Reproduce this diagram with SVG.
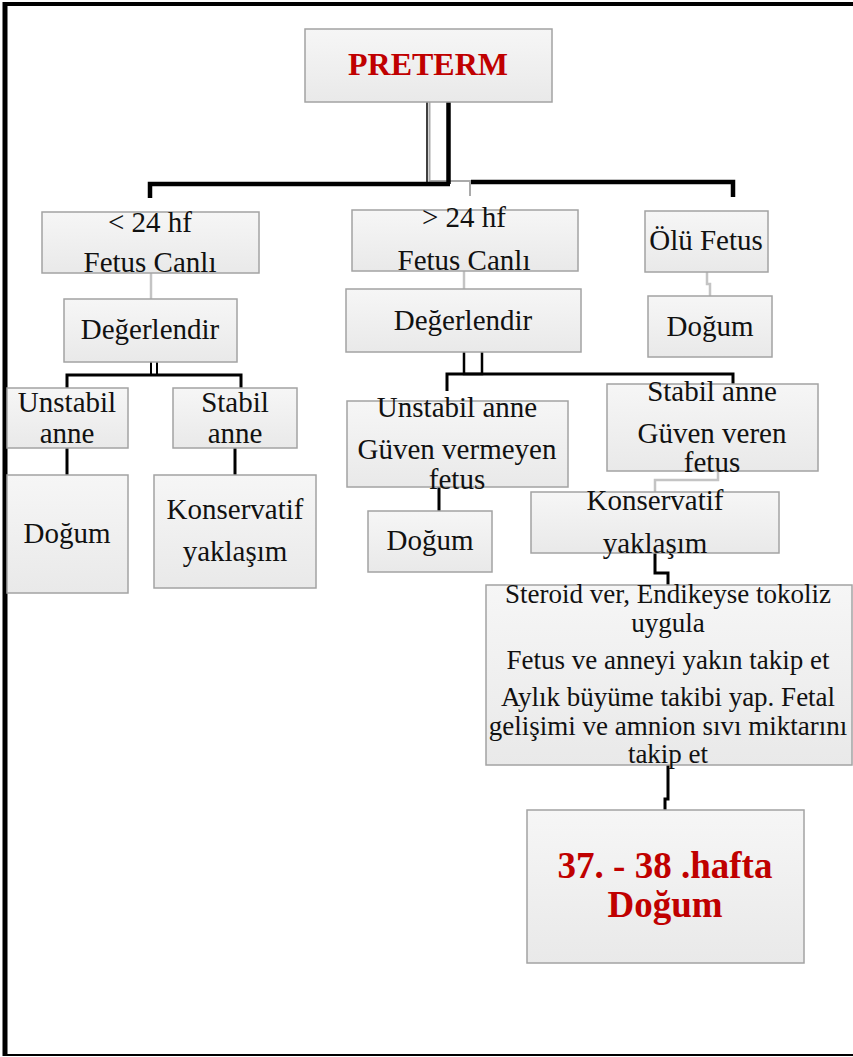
<svg xmlns="http://www.w3.org/2000/svg" width="853" height="1057" viewBox="0 0 853 1057">
  <defs>
    <linearGradient id="boxFill" x1="0" y1="0" x2="0" y2="1">
      <stop offset="0" stop-color="#f6f6f6"/>
      <stop offset="1" stop-color="#e9e9e9"/>
    </linearGradient>
    <style>
      .box { fill: url(#boxFill); stroke: #a3a3a3; stroke-width: 1.5; }
      .t { font-family: "Liberation Serif", "Times New Roman", serif; font-size: 29px; fill: #111; text-anchor: middle; }
      .ts { font-family: "Liberation Serif", "Times New Roman", serif; font-size: 27px; fill: #111; text-anchor: middle; }
      .red { font-family: "Liberation Serif", "Times New Roman", serif; font-weight: bold; fill: #c00000; text-anchor: middle; }
      .blk { fill: none; stroke: #000; stroke-width: 3; }
      .blkThick { fill: none; stroke: #000; stroke-width: 4.5; }
      .gry { fill: none; stroke: #c4c4c4; stroke-width: 2.5; }
      .frame { fill: none; stroke: #000; }
    </style>
  </defs>

  <rect width="853" height="1057" fill="#fff"/>

  <!-- page frame -->
  <g id="frame">
    <line class="frame" x1="3" y1="4" x2="853" y2="4" stroke-width="4"/>
    <line class="frame" x1="5" y1="2" x2="5" y2="1056" stroke-width="5"/>
    <line class="frame" x1="3" y1="1055" x2="853" y2="1055" stroke-width="2"/>
  </g>

  <!-- connectors -->
  <g id="connectors">
    <!-- PRETERM down to branch bar -->
    <line x1="427" y1="102" x2="427" y2="183" stroke="#000" stroke-width="1.5"/>
    <polyline points="429.5,102 429.5,181 470,181 470,196" fill="none" stroke="#aaa" stroke-width="2"/>
    <line class="blkThick" x1="448.5" y1="102" x2="448.5" y2="184"/>
    <polyline class="blkThick" points="150,198 150,184 450,184"/>
    <polyline class="blkThick" points="471,182 733,182 733,197"/>

    <!-- left branch -->
    <line class="gry" x1="151" y1="273" x2="151" y2="299"/>
    <line x1="151" y1="362" x2="151" y2="376" stroke="#000" stroke-width="2"/>
    <line x1="157" y1="362" x2="157" y2="376" stroke="#000" stroke-width="2"/>
    <polyline class="blk" points="67,389 67,375 241,375 241,389"/>
    <line class="blk" x1="67" y1="448" x2="67" y2="475"/>
    <line class="blk" x1="235" y1="448" x2="235" y2="475"/>

    <!-- middle branch -->
    <line class="gry" x1="464" y1="271" x2="464" y2="289"/>
    <polyline fill="none" stroke="#000" stroke-width="2.5" points="464,352 464,374 482,374 482,352"/>
    <polyline class="blk" points="447,391 447,374 733,374 733,384"/>
    <line class="blk" x1="439" y1="487" x2="439" y2="511"/>

    <!-- right branch -->
    <polyline class="gry" points="707,272 707,284 710,284 710,296"/>
    <polyline class="gry" points="718,471 718,480 655,480 655,492"/>
    <polyline class="blk" points="655,553 655,573 668,573 668,585"/>
    <polyline class="blk" points="668,765 668,799 665,799 665,810"/>
  </g>

  <g id="n-preterm">
    <rect class="box" x="305" y="29" width="247" height="73"/>
    <text class="red" x="428" y="75" font-size="32">PRETERM</text>
  </g>

  <g id="n-lt24">
    <rect class="box" x="42" y="212" width="217" height="61"/>
    <text class="t" x="150" y="232">&lt; 24 hf</text>
    <text class="t" x="150" y="272">Fetus Canlı</text>
  </g>

  <g id="n-deg-left">
    <rect class="box" x="64" y="299" width="173" height="63"/>
    <text class="t" x="150" y="339">Değerlendir</text>
  </g>

  <g id="n-unstabil-left">
    <rect class="box" x="7" y="388" width="121" height="60"/>
    <text class="t" x="67" y="412">Unstabil</text>
    <text class="t" x="67" y="443">anne</text>
  </g>

  <g id="n-stabil-left">
    <rect class="box" x="173" y="388" width="124" height="60"/>
    <text class="t" x="235" y="412">Stabil</text>
    <text class="t" x="235" y="443">anne</text>
  </g>

  <g id="n-dogum-left">
    <rect class="box" x="7" y="475" width="121" height="118"/>
    <text class="t" x="67" y="543">Doğum</text>
  </g>

  <g id="n-konservatif-left">
    <rect class="box" x="154" y="475" width="162" height="113"/>
    <text class="t" x="235" y="519">Konservatif</text>
    <text class="t" x="235" y="561">yaklaşım</text>
  </g>

  <g id="n-gt24">
    <rect class="box" x="352" y="210" width="226" height="61"/>
    <text class="t" x="464" y="227">&gt; 24 hf</text>
    <text class="t" x="464" y="270">Fetus Canlı</text>
  </g>

  <g id="n-deg-mid">
    <rect class="box" x="346" y="289" width="235" height="63"/>
    <text class="t" x="463" y="330">Değerlendir</text>
  </g>

  <g id="n-unstabil-mid">
    <rect class="box" x="347" y="401" width="221" height="86"/>
    <text class="t" x="457" y="417">Unstabil anne</text>
    <text class="t" x="457" y="459">Güven vermeyen</text>
    <text class="t" x="457" y="489">fetus</text>
  </g>

  <g id="n-dogum-mid">
    <rect class="box" x="368" y="511" width="124" height="61"/>
    <text class="t" x="430" y="550">Doğum</text>
  </g>

  <g id="n-olu">
    <rect class="box" x="645" y="211" width="123" height="61"/>
    <text class="t" x="706" y="250">Ölü Fetus</text>
  </g>

  <g id="n-dogum-right">
    <rect class="box" x="648" y="296" width="124" height="61"/>
    <text class="t" x="710" y="336">Doğum</text>
  </g>

  <g id="n-stabil-right">
    <rect class="box" x="607" y="384" width="211" height="87"/>
    <text class="t" x="712" y="401">Stabil anne</text>
    <text class="t" x="712" y="443">Güven veren</text>
    <text class="t" x="712" y="472">fetus</text>
  </g>

  <g id="n-konservatif-right">
    <rect class="box" x="531" y="492" width="248" height="61"/>
    <text class="t" x="655" y="510">Konservatif</text>
    <text class="t" x="655" y="553">yaklaşım</text>
  </g>

  <g id="n-takip">
    <rect class="box" x="486" y="585" width="366" height="180"/>
    <text class="ts" x="668" y="603">Steroid ver, Endikeyse tokoliz</text>
    <text class="ts" x="668" y="632">uygula</text>
    <text class="ts" x="668" y="669">Fetus ve anneyi yakın takip et</text>
    <text class="ts" x="668" y="706">Aylık büyüme takibi yap. Fetal</text>
    <text class="ts" x="668" y="735">gelişimi ve amnion sıvı miktarını</text>
    <text class="ts" x="668" y="763">takip et</text>
  </g>

  <g id="n-hafta">
    <rect class="box" x="527" y="810" width="277" height="153"/>
    <text class="red" x="665" y="878" font-size="37">37. - 38 .hafta</text>
    <text class="red" x="665" y="917" font-size="37">Doğum</text>
  </g>
</svg>
